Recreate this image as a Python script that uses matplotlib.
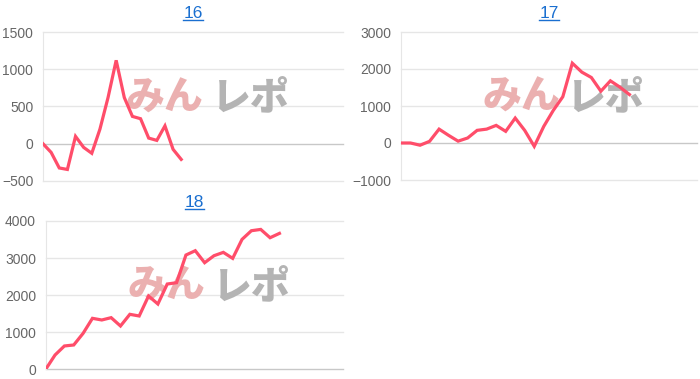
import numpy as np
import matplotlib
matplotlib.use("Agg")
from matplotlib import pyplot as plt
from matplotlib.lines import Line2D

plt.rcParams['font.family'] = ['Liberation Sans', 'Noto Sans CJK JP', 'DejaVu Sans']

# Values
titles = ["16", "17", "18"]
d16 = [0, -116, -325, -345, 99, -49, -128, 195, 620, 1120, 620, 367, 336,
       76, 45, 240, -75, -210]
d17 = [0, 0, -60, 45, 375, 207, 50, 135, 342, 375, 476, 315, 674, 340, -90,
       449, 881, 1250, 2157, 1915, 1770, 1400, 1680, 1510, 1310]
d18 = [0, 386, 629, 656, 970, 1375, 1330, 1393, 1168, 1483, 1438, 1977, 1761,
       2300, 2336, 3082, 3199, 2875, 3064, 3154, 2992, 3504, 3738, 3773, 3549,
       3666]
series = [d16, d17, d18]
ylims = [(-500, 1500), (-1000, 3000), (0, 4000)]
ysteps = [500, 1000, 1000]
xmax = [36.9, 31.1, 31.8]

# axes boxes in pixels: left, top, right, bottom
W, H = 700, 379
boxes = [(43, 32, 343, 181), (401, 32, 697, 180), (45.7, 221, 343, 369.3)]

fig = plt.figure(figsize=(W / 100, H / 100), dpi=100)
line_color = "#ff4d6a"
grid_color = "#e6e6e6"

axes = []
for i, data in enumerate(series):
    l, t, r, b = boxes[i]
    ax = fig.add_axes([l / W, (H - b) / H, (r - l) / W, (b - t) / H])
    axes.append(ax)
    x = np.arange(len(data))
    ax.plot(x, data, color=line_color, lw=2.3, zorder=3, solid_joinstyle="miter")
    lo, hi = ylims[i]
    ax.set_ylim(lo, hi)
    ax.set_xlim(0, xmax[i])
    ticks = np.arange(lo, hi + 1, ysteps[i])
    ax.set_yticks(ticks)
    ax.set_xticks([])
    for tk in ticks:
        c = "#c8c8c8" if tk == 0 else grid_color
        ax.axhline(tk, color=c, lw=1, zorder=1, clip_on=False)
    for s in ["top", "right", "bottom"]:
        ax.spines[s].set_visible(False)
    ax.spines["left"].set_color(grid_color)
    ax.tick_params(axis="y", length=0, pad=7, labelsize=10, labelcolor="#666666")

    # watermark
    ax.text(0.405, 0.56, "みん", transform=ax.transAxes, ha="center", va="center",
            fontsize=28, fontweight="heavy", color="#ebb0b0",
            family=["Noto Sans CJK JP"], zorder=2)
    ax.text(0.69, 0.56, "レポ", transform=ax.transAxes, ha="center", va="center",
            fontsize=28, fontweight="heavy", color="#b4b4b4",
            family=["Noto Sans CJK JP"], zorder=2)

    ax.set_title(titles[i], color="#1a6fd0", fontsize=12.5, pad=10)

# underline the titles like links
fig.canvas.draw()
renderer = fig.canvas.get_renderer()
for ax in axes:
    bb = ax.title.get_window_extent(renderer)
    y = (bb.y0 + 1.5) / H
    fig.add_artist(Line2D([bb.x0 / W, bb.x1 / W], [y, y], color="#1a6fd0", lw=1.0))

fig.savefig("out.png", dpi=100)
